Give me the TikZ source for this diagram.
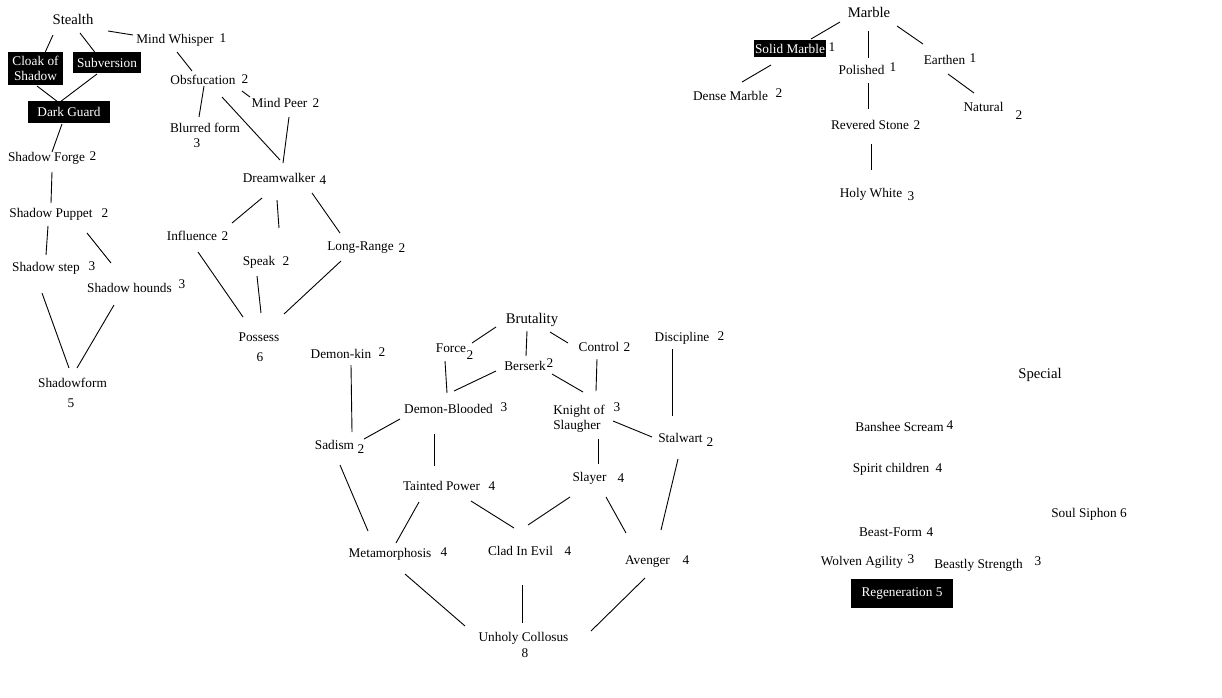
\documentclass[tikz,border=0pt]{standalone}
\usepackage{fontspec}
\setmainfont{Liberation Serif}
\usetikzlibrary{calc}
\newcommand\skillfont{\fontsize{13.3}{15}\selectfont}
\newcommand\treefont{\fontsize{14.7}{17}\selectfont}
\tikzset{
    skill/.style={inner sep=0pt, text height=8.8pt, text depth=0pt, font=\skillfont},
    cost/.style={skill},
    tree/.style={inner sep=0pt, text height=9.7pt, text depth=0pt, font=\treefont},
    owned/.style={fill=black, text=white, inner sep=0pt, font=\skillfont},
    link/.style={line width=0.9pt},
}
\begin{document}
\begin{tikzpicture}[x=1pt,y=-1pt]
    \fill[white] (0,0) rectangle (1222,697);
    \useasboundingbox (0,0) rectangle (1222,697);
    % Stealth
    \node[tree] (stealth) at (73,20) {Stealth};
    \node[owned, minimum width=55pt, minimum height=33pt, align=center] (cloak) at (35.5,68.5) {Cloak of\\Shadow};
    \node[owned, minimum width=68pt, minimum height=21pt] (subversion) at (107,62.5) {Subversion};
    \node[owned, minimum width=82pt, minimum height=22pt] (darkguard) at (69,112) {Dark Guard};
    \node[skill] (shadowforge) at (46.5,157) {Shadow Forge};
    \node[cost] (shadowforge-c) at (93,156) {2};
    \node[skill] (shadowpuppet) at (51,213) {Shadow Puppet};
    \node[cost] (shadowpuppet-c) at (105,213) {2};
    \node[skill] (shadowstep) at (46,267) {Shadow step};
    \node[cost] (shadowstep-c) at (92,266) {3};
    \node[skill] (shadowhounds) at (129.5,288) {Shadow hounds};
    \node[cost] (shadowhounds-c) at (182,284) {3};
    \node[skill] (shadowform) at (72.5,383) {Shadowform};
    \node[cost] (shadowform-c) at (71,403) {5};
    \node[skill] (mindwhisper) at (175,39) {Mind Whisper};
    \node[cost] (mindwhisper-c) at (223,38) {1};
    \node[skill] (obsfucation) at (203,80) {Obsfucation};
    \node[cost] (obsfucation-c) at (245,79) {2};
    \node[skill] (mindpeer) at (279.5,103) {Mind Peer};
    \node[cost] (mindpeer-c) at (316,103) {2};
    \node[skill] (blurred) at (205,128) {Blurred form};
    \node[cost] (blurred-c) at (197,143) {3};
    \node[skill] (dreamwalker) at (279,178) {Dreamwalker};
    \node[cost] (dreamwalker-c) at (323,180) {4};
    \node[skill] (influence) at (192,236) {Influence};
    \node[cost] (influence-c) at (225,236) {2};
    \node[skill] (speak) at (259,261) {Speak};
    \node[cost] (speak-c) at (286,261) {2};
    \node[skill] (longrange) at (360.5,246) {Long-Range};
    \node[cost] (longrange-c) at (402,248) {2};
    \node[skill] (possess) at (259,337) {Possess};
    \node[cost] (possess-c) at (260,357) {6};

    \draw[link] ($(stealth)+(-20,15)$) -- ($(cloak)+(7.5,-11.5)$);
    \draw[link] ($(stealth)+(7,13)$) -- ($(subversion)+(-10,-7.5)$);
    \draw[link] ($(stealth)+(35,11)$) -- ($(mindwhisper)+(-42,-4)$);
    \draw[link] ($(cloak)+(1.5,17.5)$) -- ($(darkguard)+(-11,-10)$);
    \draw[link] ($(subversion)+(-10,11.5)$) -- ($(darkguard)+(-9,-10)$);
    \draw[link] ($(darkguard)+(-7,12)$) -- ($(shadowforge)+(5.5,-5)$);
    \draw[link] ($(shadowforge)+(5.5,15)$) -- ($(shadowpuppet)+(0,-10)$);
    \draw[link] ($(shadowpuppet)+(-3,13)$) -- ($(shadowstep)+(0,-12)$);
    \draw[link] ($(shadowpuppet)+(36,20)$) -- ($(shadowhounds)+(-18.5,-25)$);
    \draw[link] ($(shadowstep)+(-4,26)$) -- ($(shadowform)+(-3.5,-15)$);
    \draw[link] ($(shadowhounds)+(-15.5,17)$) -- ($(shadowform)+(4.5,-15)$);
    \draw[link] ($(mindwhisper)+(2,13)$) -- ($(obsfucation)+(-11,-9)$);
    \draw[link] ($(obsfucation)+(1,6)$) -- ($(blurred)+(-6,-11)$);
    \draw[link] ($(obsfucation)+(39,11)$) -- ($(mindpeer)+(-29.5,-6)$);
    \draw[link] ($(obsfucation)+(19,17)$) -- ($(dreamwalker)+(1,-18)$);
    \draw[link] ($(mindpeer)+(9.5,14)$) -- ($(dreamwalker)+(4,-15)$);
    \draw[link] ($(dreamwalker)+(-17,20)$) -- ($(influence)+(40,-13)$);
    \draw[link] ($(dreamwalker)+(-2,22)$) -- ($(speak)+(20,-33)$);
    \draw[link] ($(dreamwalker)+(33,15)$) -- ($(longrange)+(-20.5,-13)$);
    \draw[link] ($(influence)+(6,16)$) -- ($(possess)+(-16,-20)$);
    \draw[link] ($(speak)+(-2,15)$) -- ($(possess)+(2,-24)$);
    \draw[link] ($(longrange)+(-19.5,15)$) -- ($(possess)+(25,-23)$);

    % Brutality
    \node[tree] (brutality) at (532,319) {Brutality};
    \node[skill] (force) at (451,348) {Force};
    \node[cost] (force-c) at (470,355) {2};
    \node[skill] (berserk) at (525,366) {Berserk};
    \node[cost] (berserk-c) at (550,363) {2};
    \node[skill] (control) at (599,347) {Control};
    \node[cost] (control-c) at (627,347) {2};
    \node[skill] (discipline) at (682,337) {Discipline};
    \node[cost] (discipline-c) at (721,336) {2};
    \node[skill] (demonkin) at (341,354) {Demon-kin};
    \node[cost] (demonkin-c) at (382,352) {2};
    \node[skill] (demonblooded) at (448.5,409) {Demon-Blooded};
    \node[cost] (demonblooded-c) at (504,407) {3};
    \node[font=\skillfont, inner sep=0pt, align=left] (knight) at (579,418.5) {Knight of\\Slaugher};
    \node[cost] (knight-c) at (617,407) {3};
    \node[skill] (sadism) at (334.5,445) {Sadism};
    \node[cost] (sadism-c) at (361,449) {2};
    \node[skill] (stalwart) at (680.5,438) {Stalwart};
    \node[cost] (stalwart-c) at (710,442) {2};
    \node[skill] (tainted) at (441.5,486) {Tainted Power};
    \node[cost] (tainted-c) at (492,486) {4};
    \node[skill] (slayer) at (589.5,477) {Slayer};
    \node[cost] (slayer-c) at (621,478) {4};
    \node[skill] (metamorphosis) at (390,553) {Metamorphosis};
    \node[cost] (metamorphosis-c) at (444,552) {4};
    \node[skill] (clad) at (520.5,551) {Clad In Evil};
    \node[cost] (clad-c) at (568,551) {4};
    \node[skill] (avenger) at (647.5,560) {Avenger};
    \node[cost] (avenger-c) at (686,560) {4};
    \node[skill] (unholy) at (523.5,637) {Unholy Collosus};
    \node[cost] (unholy-c) at (525,653) {8};

    \draw[link] ($(brutality)+(-36,8)$) -- ($(force)+(21,-5)$);
    \draw[link] ($(brutality)+(-5,12)$) -- ($(berserk)+(1,-10)$);
    \draw[link] ($(brutality)+(18,13)$) -- ($(control)+(-31,-4)$);
    \draw[link] ($(force)+(-6,13)$) -- ($(demonblooded)+(-1.5,-16)$);
    \draw[link] ($(berserk)+(-29,5)$) -- ($(demonblooded)+(5.5,-18)$);
    \draw[link] ($(berserk)+(27,8)$) -- ($(knight)+(4,-26.5)$);
    \draw[link] ($(control)+(-2,12)$) -- ($(knight)+(17,-27.5)$);
    \draw[link] ($(discipline)+(-10,12)$) -- ($(stalwart)+(-8.5,-22)$);
    \draw[link] ($(demonkin)+(10,11)$) -- ($(sadism)+(17.5,-13)$);
    \draw[link] ($(demonblooded)+(-48.5,10)$) -- ($(sadism)+(29.5,-6)$);
    \draw[link] ($(knight)+(34,2.5)$) -- ($(stalwart)+(-28.5,-1)$);
    \draw[link] ($(demonblooded)+(-14.5,25)$) -- ($(tainted)+(-7.5,-20)$);
    \draw[link] ($(knight)+(19,20.5)$) -- ($(slayer)+(8.5,-13)$);
    \draw[link] ($(sadism)+(5.5,20)$) -- ($(metamorphosis)+(-22,-22)$);
    \draw[link] ($(stalwart)+(-2.5,21)$) -- ($(avenger)+(13.5,-30)$);
    \draw[link] ($(tainted)+(-22.5,16)$) -- ($(metamorphosis)+(6,-10)$);
    \draw[link] ($(tainted)+(29.5,15)$) -- ($(clad)+(-6.5,-23)$);
    \draw[link] ($(slayer)+(-19.5,20)$) -- ($(clad)+(7.5,-26)$);
    \draw[link] ($(slayer)+(16.5,20)$) -- ($(avenger)+(-21.5,-27)$);
    \draw[link] ($(metamorphosis)+(15,21)$) -- ($(unholy)+(-58.5,-11)$);
    \draw[link] ($(clad)+(1.5,34)$) -- ($(unholy)+(-1.5,-14)$);
    \draw[link] ($(avenger)+(-2.5,18)$) -- ($(unholy)+(67.5,-6)$);

    % Marble
    \node[tree] (marble) at (869,13) {Marble};
    \node[owned, minimum width=72pt, minimum height=17pt] (solid) at (790,48.5) {Solid Marble};
    \node[cost] (solid-c) at (832,47) {1};
    \node[skill] (dense) at (730.5,96) {Dense Marble};
    \node[cost] (dense-c) at (779,93) {2};
    \node[skill] (polished) at (861.5,70) {Polished};
    \node[cost] (polished-c) at (893,67) {1};
    \node[skill] (earthen) at (944.5,60) {Earthen};
    \node[cost] (earthen-c) at (973,58) {1};
    \node[skill] (natural) at (983.5,107) {Natural};
    \node[cost] (natural-c) at (1019,115) {2};
    \node[skill] (revered) at (870,125) {Revered Stone};
    \node[cost] (revered-c) at (917,125) {2};
    \node[skill] (holy) at (871,193) {Holy White};
    \node[cost] (holy-c) at (911,196) {3};

    \draw[link] ($(marble)+(-29,9)$) -- ($(solid)+(21,-9.5)$);
    \draw[link] ($(marble)+(-1,18)$) -- ($(polished)+(6.5,-12)$);
    \draw[link] ($(marble)+(28,13)$) -- ($(earthen)+(-21.5,-16)$);
    \draw[link] ($(solid)+(-19,16.5)$) -- ($(dense)+(11.5,-14)$);
    \draw[link] ($(earthen)+(3.5,14)$) -- ($(natural)+(-9.5,-14)$);
    \draw[link] ($(polished)+(6.5,13)$) -- ($(revered)+(-2,-16)$);
    \draw[link] ($(revered)+(1,19)$) -- ($(holy)+(0,-23)$);

    % Special
    \node[tree] (special) at (1040,374) {Special};
    \node[skill] (banshee) at (899.5,427) {Banshee Scream};
    \node[cost] (banshee-c) at (950,425) {4};
    \node[skill] (spirit) at (891,468) {Spirit children};
    \node[cost] (spirit-c) at (939,468) {4};
    \node[skill] (soulsiphon) at (1089,513) {Soul Siphon 6};
    \node[skill] (beastform) at (890.5,532) {Beast-Form};
    \node[cost] (beastform-c) at (930,532) {4};
    \node[skill] (wolven) at (862,561) {Wolven Agility};
    \node[cost] (wolven-c) at (911,559) {3};
    \node[skill] (beastly) at (978.5,564) {Beastly Strength};
    \node[cost] (beastly-c) at (1038,561) {3};
    \node[owned, minimum width=102pt, minimum height=29pt] (regen) at (902,593.5) {Regeneration 5};
\end{tikzpicture}
\end{document}
